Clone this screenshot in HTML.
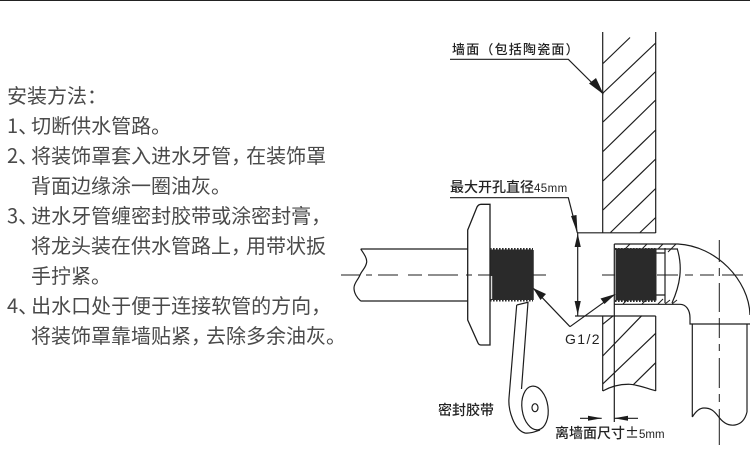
<!DOCTYPE html>
<html><head><meta charset="utf-8"><style>
html,body{margin:0;padding:0;background:#fff}
body{width:750px;height:467px;overflow:hidden;position:relative}
#bar{position:absolute;left:0;top:0;width:750px;height:1px;background:#222}
.t{position:absolute;white-space:nowrap;font:400 20px/30px "Noto Sans CJK SC","Liberation Sans",sans-serif;color:#4a4a4a}
.t i{font-style:normal;letter-spacing:-7px}
.t b{font-weight:400;letter-spacing:-5px}
svg{position:absolute;left:0;top:0}
</style></head><body>
<div id="bar"></div>
<div class="t" style="left:7px;top:80px">安装方法：</div>
<div class="t" style="left:7px;top:110px">1<i>、</i>切断供水管路。</div>
<div class="t" style="left:7px;top:140px">2<i>、</i>将装饰罩套入进水牙管<b>，</b>在装饰罩</div>
<div class="t" style="left:31px;top:170px">背面边缘涂一圈油灰。</div>
<div class="t" style="left:7px;top:200px">3<i>、</i>进水牙管缠密封胶带或涂密封膏<b>，</b></div>
<div class="t" style="left:31px;top:230px">将龙头装在供水管路上<b>，</b>用带状扳</div>
<div class="t" style="left:31px;top:260px">手拧紧。</div>
<div class="t" style="left:7px;top:290px">4<i>、</i>出水口处于便于连接软管的方向<b>，</b></div>
<div class="t" style="left:31px;top:320px">将装饰罩靠墙贴紧<b>，</b>去除多余油灰。</div>
<svg width="750" height="467" viewBox="0 0 750 467">
<defs><filter id="b" x="0" y="0" width="100%" height="100%"><feGaussianBlur stdDeviation="0.35"/></filter></defs>
<g filter="url(#b)" fill="none" stroke="#1e1e1e" stroke-width="1.2">
<!-- wall -->
<path d="M602.7 32V233M655.7 32V233M577 232.8H655.7M575 316H655.7M602.7 316V391M655.7 316V391M614.3 244V422"/>
<path d="M602.7 391C610 387 620 384 630 384.3C640 385 648 389 655.7 390.8"/>
<path d="M603 63.5L630 37.5M603 93L655.7 43M603 122L655.7 71.5M603 151.5L655.7 100M603 181L655.7 130M603 210L655.7 159M610.5 232.5L655.7 188.5M640 232.5L655.7 217.5"/>
<path d="M602.7 324.3L613.3 315.7M602.7 356L641.7 315.7M602.7 384L655.7 333.3M633 385L655.7 362.7"/>
<!-- leaders -->
<path d="M450 59.3H568.3L603.3 94M450 197.7H568.3L577.3 232.7M577.7 233V316M570 326.7L533.3 288.3M570 326.7L615 294.3M580 418.3H601.7M638 418.3H614.3"/>
<g fill="#1e1e1e" stroke="none">
<path d="M603.7 94.5L589 83.5L596 78Z"/>
<path d="M577.5 233.5L571 216L576.5 215Z"/>
<path d="M577.7 233.5L574.6 247H580.8Z"/>
<path d="M577.7 315L574.6 301H580.8Z"/>
<path d="M533 288L546 294L540.5 300Z"/>
<path d="M615.5 294L600.5 298.5L604.5 304Z"/>
<path d="M602 418.3L588 415.8V420.8Z"/>
<path d="M614 418.3L628 415.8V420.8Z"/>
</g>
<!-- left pipe + flange -->
<path d="M360.7 249H468M360.7 301H468M360.7 249C364 254 367 258 366.7 262C366 268 362 270 360 275C358 280 354 283 354 288C354 293 357 298 360.7 301"/>
<path d="M490 204.3H481Q478.5 204.3 477 207L467.7 230V320L478 343Q479 345 481 345H490V204.3Z" stroke-width="1.3"/>
<!-- thread left -->
<rect x="490.5" y="249.5" width="42" height="50.5" fill="#2b2b2b" stroke="none"/>
<path d="M490 249H533M490 300.5H533" stroke="#2b2b2b" stroke-width="2" stroke-dasharray="1.6 1.4"/>
<path d="M533 250V300" stroke="#2b2b2b" stroke-width="1.5"/>
<path d="M491.5 276V299" stroke="#ddd" stroke-width="1.4"/>
<!-- centerline -->
<path d="M341 275H360M366 275H372M378 275H398M408 275H422M428 275H458M466 275H472M478 275H490M533 275H546M602 275H615M657 275H678M685 275H693M700 275H714M722 275H743" stroke-width="1"/>
<path d="M719.3 240V262M719.3 268V276M719.3 283V312M719.3 318V338M719.3 344V351M719.3 358V388M719.3 394V402M719.3 409V445" stroke-width="1"/>
<!-- elbow -->
<path d="M614.3 244H678C716 246 749 280 750 315M614.3 304.3H680C686 304.3 690 310 690 318V324H750M692.3 324V417M747 324V412M692.3 417C696 411 700 408 704 408C711 408 714 411 718 416C723 423 729 426 735 425C741 424 745 420 747 412"/>
<path d="M615 249H678M665 248V303M656 253H665M656 295H665M677.3 249C683 268 680 285 672 303" />
<path d="M625 249L630 244M642 249L647 244M658 249L663 244M668 252L676 244M623 304L628 299M642 304L646 300M658 304L663 299M665 304L670 300M672 304L677 300" stroke-width="1"/>
<!-- thread right -->
<rect x="615.5" y="249.5" width="41" height="51" fill="#2b2b2b" stroke="none"/>
<path d="M615 249H657M615 301H657" stroke="#2b2b2b" stroke-width="2" stroke-dasharray="1.6 1.4"/>
<!-- tape -->
<path d="M516.7 305L528 302.3L521.5 389M516.7 305L509 398C508 410 514 430 525 433C530 433.5 534 432 540 430"/>
<ellipse cx="535" cy="408" rx="13" ry="22" transform="rotate(-8 535 408)"/>
<ellipse cx="535" cy="407.7" rx="3" ry="4"/>
<!-- labels -->
<g fill="#222" stroke="none" font-weight="500" font-family="'Noto Sans CJK SC','Liberation Sans',sans-serif">
<text x="452" y="54" font-size="13" letter-spacing="1.2">墙面（包括陶瓷面）</text>
<text x="450" y="192" font-size="14">最大开孔直径<tspan font-family="'Liberation Sans',sans-serif" font-size="11.5" letter-spacing="0.4">45mm</tspan></text>
<text x="565" y="344" font-size="14" font-family="'Liberation Sans',sans-serif" letter-spacing="1.4">G1/2</text>
<text x="438" y="415" font-size="14">密封胶带</text>
<text x="555" y="438" font-size="14">离墙面尺寸±<tspan font-family="'Liberation Sans',sans-serif" font-size="11.5">5mm</tspan></text>
</g>
</g>
</svg>
</body></html>
